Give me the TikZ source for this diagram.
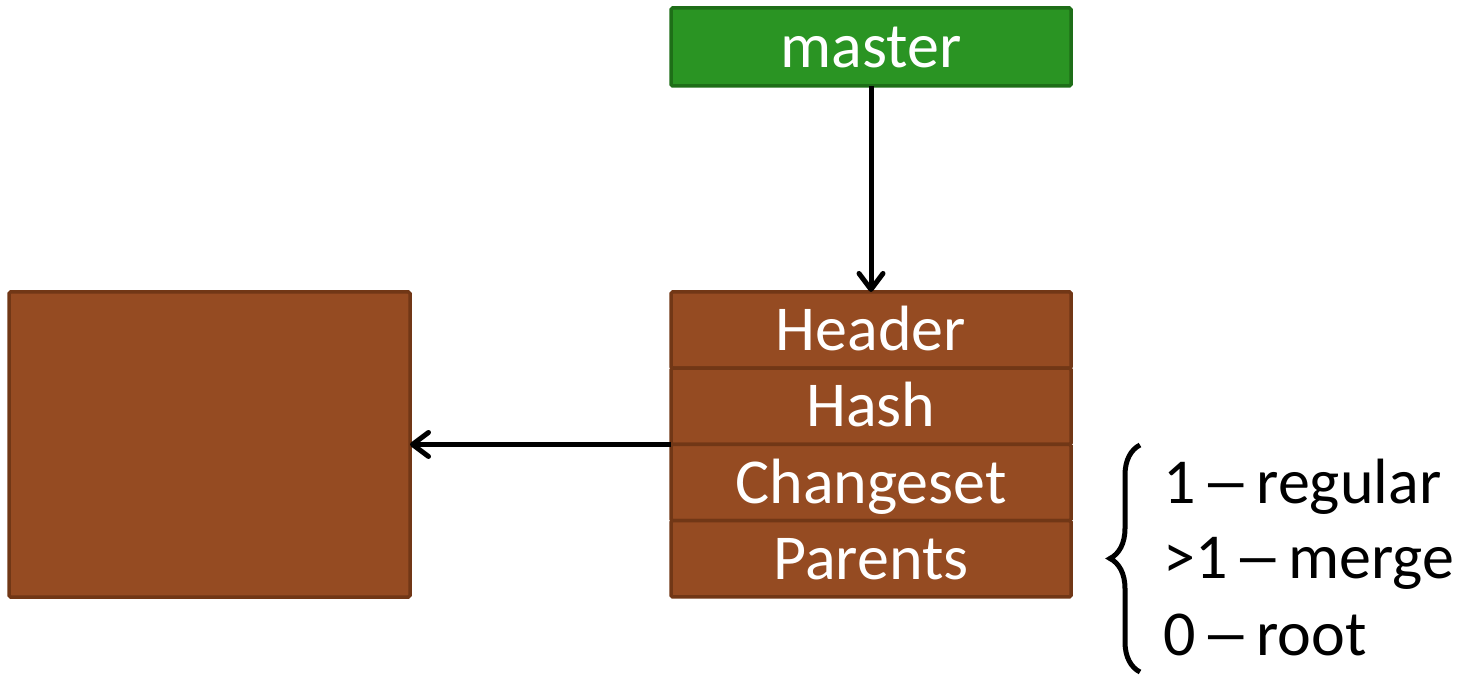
\documentclass[tikz,border=0pt]{standalone}
\usepackage{fontspec}
\setmainfont{Carlito}
\usetikzlibrary{arrows.meta,decorations.pathreplacing}
\definecolor{brfill}{HTML}{954B22}
\definecolor{brline}{HTML}{713716}
\definecolor{grfill}{HTML}{2A9423}
\definecolor{grline}{HTML}{1E6E18}
% a wider dash that keeps the usual en-dash advance
\newcommand{\dashsep}{\makebox[0.5em][c]{\scalebox{1.55}[1]{–}}}
\tikzset{
  x=1pt,y=-1pt,
  big/.style={font=\fontsize{64}{74}\selectfont},
  box/.style={draw=brline,fill=brfill,line width=3.5pt,rounded corners=1.5pt,
    minimum width=400pt,inner sep=0pt,outer sep=0pt,big,text=white,
    text height=41pt,text depth=0pt},
  row/.style={box,minimum height=76.25pt},
  branch/.style={box,draw=grline,fill=grfill,minimum height=78pt},
  link/.style={line width=5pt,-{Straight Barb[length=16pt,width=24pt,line cap=round,line join=round]}},
}
\begin{document}
\begin{tikzpicture}
\useasboundingbox (0,0) rectangle (1460,676);
% branch pointer
\node[branch] (master) at (871,47) {master};
% commit object, four stacked fields
\node[row] (header) at (871,330.1) {Header};
\node[row,anchor=north] (hash) at (header.south) {Hash};
\node[row,anchor=north] (changeset) at (hash.south) {Changeset};
\node[row,anchor=north] (parents) at (changeset.south) {Parents};
% tree object referenced by the hash
\node[box,minimum width=401pt,minimum height=305pt] (tree) at (209.5,444.5) {};
% connectors
\draw[link] (master.south) -- (header.north);
\draw[link] (hash.south west) -- (hash.south west -| tree.east);
% parent count legend
\coordinate (bt) at (1140,445);
\coordinate (bb) at (1140,672);
\draw[line width=5pt,decorate,decoration={brace,amplitude=30pt}] (bb) -- (bt);
\node[big,anchor=base west,inner sep=0pt] (one) at (1163,503) {1 \dashsep{} regular};
\node[big,anchor=base west,inner sep=0pt] (many) at (1163,578) {>1 \dashsep{} merge};
\node[big,anchor=base west,inner sep=0pt] (zero) at (1163,655) {0 \dashsep{} root};
\end{tikzpicture}
\end{document}
